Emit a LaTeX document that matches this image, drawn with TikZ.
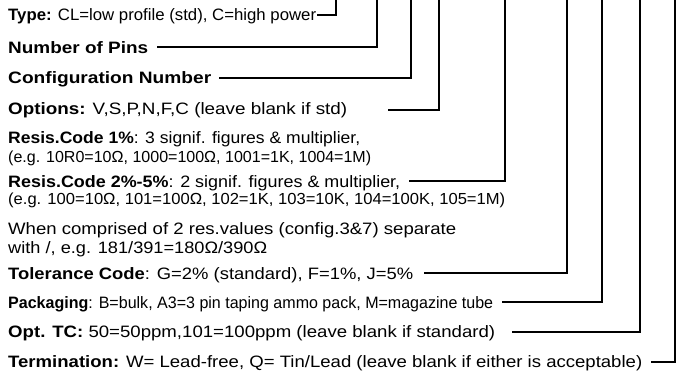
\documentclass[tikz,border=0pt]{standalone}
\usepackage{fontspec}
\setmainfont{Liberation Sans}
\newcommand{\fitw}[2]{\resizebox{#1bp}{\height}{#2}}
\begin{document}
\begin{tikzpicture}[x=1bp,y=-1bp,
  lbl/.style={anchor=base west,inner sep=0pt,font=\fontsize{16.5bp}{19bp}\selectfont},
  sml/.style={anchor=base west,inner sep=0pt,font=\fontsize{16bp}{18bp}\selectfont},
  leader/.style={line width=1.6bp,line cap=rect}]
\useasboundingbox (0,0) rectangle (686,372);
% texts
\node[lbl] (type) at (8,20) {\fitw{308}{\textbf{Type:} CL=low profile (std), C=high power}};
\node[lbl] (pins) at (8,53) {\fitw{140}{\textbf{Number of Pins}}};
\node[lbl] (conf) at (8,83) {\fitw{203}{\textbf{Configuration Number}}};
\node[lbl] (opt) at (8,114) {\fitw{339}{\textbf{Options:} V,S,P,N,F,C (leave blank if std)}};
\node[lbl] (resa) at (8,143) {\fitw{352}{\textbf{Resis.Code 1\%}: 3 signif. figures \& multiplier,}};
\node[sml] (resa2) at (8,162) {\fitw{363}{(e.g. 10R0=10Ω, 1000=100Ω, 1001=1K, 1004=1M)}};
\node[lbl] (resb) at (8,187) {\fitw{392}{\textbf{Resis.Code 2\%-5\%}: 2 signif. figures \& multiplier,}};
\node[sml] (resb2) at (8,204) {\fitw{497}{(e.g. 100=10Ω, 101=100Ω, 102=1K, 103=10K, 104=100K, 105=1M)}};
\node[lbl] (when) at (8,234) {\fitw{448}{When comprised of 2 res.values (config.3\&7) separate}};
\node[lbl] (with) at (8,253) {\fitw{259}{with /, e.g. 181/391=180Ω/390Ω}};
\node[lbl] (tol) at (8,279) {\fitw{405}{\textbf{Tolerance Code}: G=2\% (standard), F=1\%, J=5\%}};
\node[lbl] (pack) at (8,308) {\fitw{485}{\textbf{Packaging}: B=bulk, A3=3 pin taping ammo pack, M=magazine tube}};
\node[lbl] (tc) at (8,337) {\fitw{487}{\textbf{Opt. TC:} 50=50ppm,101=100ppm (leave blank if standard)}};
\node[lbl] (term) at (8,367) {\fitw{634}{\textbf{Termination:} W= Lead-free, Q= Tin/Lead (leave blank if either is acceptable)}};
% leader start points and top ends
\coordinate (s1) at (318,15);  \coordinate (e1) at (336,0);
\coordinate (s2) at (158,47);  \coordinate (e2) at (377,0);
\coordinate (s3) at (220,78);  \coordinate (e3) at (411,0);
\coordinate (s4) at (389,110); \coordinate (e4) at (439,0);
\coordinate (s5) at (410,181); \coordinate (e5) at (505,0);
\coordinate (s6) at (425,273); \coordinate (e6) at (567,0);
\coordinate (s7) at (503,302); \coordinate (e7) at (602,0);
\coordinate (s8) at (513,332); \coordinate (e8) at (640,0);
\coordinate (s9) at (652,362); \coordinate (e9) at (675,0);
\foreach \i in {1,...,9} {\draw[leader] (s\i) -| (e\i);}
\end{tikzpicture}
\end{document}
